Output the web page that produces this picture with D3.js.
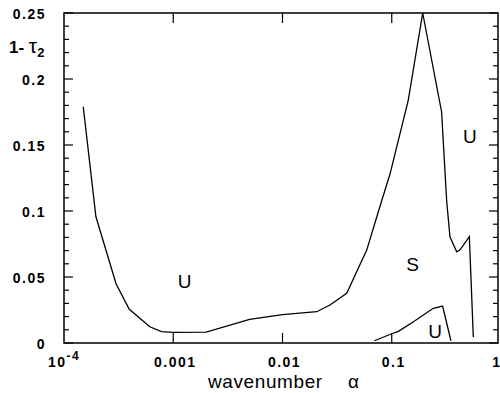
<!DOCTYPE html>
<html>
<head>
<meta charset="utf-8">
<script src="https://cdn.jsdelivr.net/npm/d3@7"></script>
<style>
  html, body { margin: 0; padding: 0; background: #fff; }
  svg { display: block; }
  text { font-family: "Liberation Sans", Arial, sans-serif; fill: #000; }
</style>
</head>
<body>
<script>
// ---- data ----
const upperX = [1.5e-4, 1.96e-4, 3.0e-4, 3.96e-4, 6.1e-4, 7.8e-4, 0.001, 0.002, 0.005, 0.01, 0.0206, 0.0272, 0.0387, 0.059, 0.081, 0.0964, 0.1417, 0.192, 0.286, 0.318, 0.341, 0.393, 0.42, 0.513, 0.558];
const upperY = [0.179, 0.0956, 0.0447, 0.0255, 0.0123, 0.0086, 0.0081, 0.0083, 0.0179, 0.0215, 0.0237, 0.0288, 0.0376, 0.0704, 0.108, 0.128, 0.184, 0.25, 0.175, 0.108, 0.0805, 0.0691, 0.0704, 0.0805, 0.0045];
const lowerX = [0.0694, 0.1, 0.115, 0.158, 0.24, 0.292, 0.348];
const lowerY = [0.0017, 0.0070, 0.0088, 0.0161, 0.0263, 0.028, 0.0017];
const yTickValues = [0, 0.05, 0.1, 0.15, 0.2, 0.25];
const yTickLabels = ["0", "0.05", "0.1", "0.15", "0.2", "0.25"];
const xTickValues = [1e-4, 0.001, 0.01, 0.1, 1];
const xTickLabels = ["10", "0.001", "0.01", "0.1", "1"];
const regionLabels = ["U", "S", "U", "U"];
const regionX = [0.00127, 0.155, 0.249, 0.52];
const regionY = [0.0416, 0.0547, 0.0038, 0.1514];

// ---- layout ----
const W = 500, H = 393;
const pL = 64, pR = 498, pT = 13, pB = 343;
const x = d3.scaleLog().domain([1e-4, 1]).range([64, 501]);
const y = d3.scaleLinear().domain([0, 0.25]).range([pB, pT]);

const svg = d3.select("body").append("svg").attr("width", W).attr("height", H);

// frame
svg.append("rect").attr("x", pL).attr("y", pT)
  .attr("width", pR - pL).attr("height", pB - pT)
  .attr("fill", "none").attr("stroke", "#000").attr("stroke-width", 1.5);

// y minor & major ticks (left and right, inward)
const yMinor = d3.range(0, 26).map(i => i / 100);
yMinor.forEach(v => {
  const major = Math.abs(v * 20 - Math.round(v * 20)) < 1e-6;
  const len = major ? 9 : 5;
  svg.append("line").attr("x1", pL).attr("x2", pL + len)
    .attr("y1", y(v)).attr("y2", y(v)).attr("stroke", "#000").attr("stroke-width", 1.2);
  svg.append("line").attr("x1", pR).attr("x2", pR - len)
    .attr("y1", y(v)).attr("y2", y(v)).attr("stroke", "#000").attr("stroke-width", 1.2);
});

// x ticks (bottom and top, inward)
xTickValues.slice(1, 4).forEach(v => {
  svg.append("line").attr("x1", x(v)).attr("x2", x(v))
    .attr("y1", pB).attr("y2", pB - 10).attr("stroke", "#000").attr("stroke-width", 1.2);
  svg.append("line").attr("x1", x(v)).attr("x2", x(v))
    .attr("y1", pT).attr("y2", pT + 10).attr("stroke", "#000").attr("stroke-width", 1.2);
});

// y tick labels
yTickValues.forEach((v, i) => {
  svg.append("text").attr("x", 46).attr("y", y(v) + 6)
    .attr("text-anchor", "end").attr("font-size", 14).attr("font-weight", "bold")
    .attr("letter-spacing", "1.5px")
    .text(yTickLabels[i]);
});

// x tick labels
xTickValues.forEach((v, i) => {
  if (i === 0) {
    const t = svg.append("text").attr("x", 48).attr("y", 367)
      .attr("font-size", 14).attr("font-weight", "bold").attr("letter-spacing", "1.5px");
    t.append("tspan").text(xTickLabels[i]);
    t.append("tspan").attr("dy", -7).attr("font-size", 12).text("-4");
  } else if (i === xTickLabels.length - 1) {
    svg.append("text").attr("x", 500).attr("y", 367)
      .attr("text-anchor", "end").attr("font-size", 14).attr("font-weight", "bold")
      .text(xTickLabels[i]);
  } else {
    svg.append("text").attr("x", x(v) + 2).attr("y", 367)
      .attr("text-anchor", "middle").attr("font-size", 14).attr("font-weight", "bold")
      .attr("letter-spacing", "1.5px")
      .text(xTickLabels[i]);
  }
});

// axis titles
svg.append("text").attr("x", 208).attr("y", 388)
  .attr("font-size", 19).attr("letter-spacing", "0.6px").text("wavenumber");
svg.append("text").attr("x", 348).attr("y", 388)
  .attr("font-size", 19).text("α");

const yl = svg.append("text").attr("x", 9).attr("y", 53)
  .attr("font-size", 17).attr("font-weight", "bold");
yl.append("tspan").text("1- ");
yl.append("tspan").attr("font-size", 21).attr("font-weight", "normal").text("τ");
yl.append("tspan").attr("dy", 4).attr("font-size", 13).text("2");

// curves
const line = d3.line().x(d => x(d[0])).y(d => y(d[1]));
svg.append("path").datum(upperX.map((v, i) => [v, upperY[i]]))
  .attr("d", line).attr("fill", "none").attr("stroke", "#000").attr("stroke-width", 1.3);
svg.append("path").datum(lowerX.map((v, i) => [v, lowerY[i]]))
  .attr("d", line).attr("fill", "none").attr("stroke", "#000").attr("stroke-width", 1.3);

// region labels
regionLabels.forEach((t, i) => {
  svg.append("text").attr("x", x(regionX[i])).attr("y", y(regionY[i]))
    .attr("text-anchor", "middle").attr("font-size", 19).text(t);
});
</script>
</body>
</html>
